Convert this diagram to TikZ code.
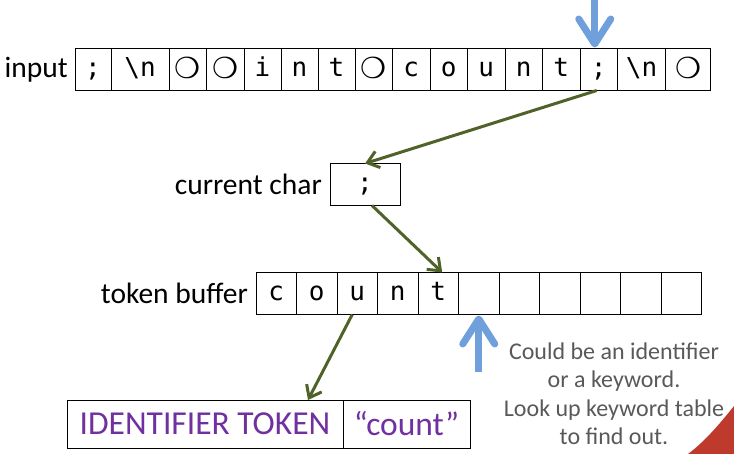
\documentclass[tikz,border=0pt]{standalone}
\usepackage{fontspec}
\setmainfont{Carlito}
\newfontfamily\cellfont{DejaVu Sans Mono}
\newfontfamily\symfont{DejaVu Sans}
\usetikzlibrary{arrows.meta,positioning}

\definecolor{flowgreen}{HTML}{4F6228}
\definecolor{pointerblue}{HTML}{6FA0DC}
\definecolor{tokenpurple}{HTML}{7030A0}
\definecolor{notegray}{HTML}{595959}
\definecolor{cornerred}{HTML}{BE3A2D}

\newcommand\blankmark{\raisebox{-2.5pt}{\symfont\fontsize{29}{29}\selectfont ❍}}

\tikzset{
  cell/.style={draw, line width=0.8pt, outer sep=0pt, inner sep=0pt, minimum height=42pt,
    text height=19pt, text depth=5pt, anchor=west, font=\cellfont\fontsize{26}{26}\selectfont},
  lbl/.style={inner sep=0pt, font=\fontsize{29.5}{29.5}\selectfont},
  tokbox/.style={draw, line width=0.8pt, outer sep=0pt, inner sep=0pt, minimum height=48pt,
    anchor=west, text=tokenpurple, font=\fontsize{33.5}{33.5}\selectfont},
  flow/.style={draw=flowgreen, line width=3pt, -{Straight Barb[length=11pt,width=17pt]}},
  pointer/.style={draw=pointerblue, line width=7pt, -{Straight Barb[round,length=25pt,width=32pt]}},
  note/.style={align=center, text=notegray, inner sep=0pt, font=\fontsize{24}{28.5}\selectfont}
}

\begin{document}
\begin{tikzpicture}[x=1pt,y=-1pt]
\useasboundingbox (0,0) rectangle (734,454);

% input characters
\node[cell, minimum width=36pt] (in1) at (75,69.5) {;};
\foreach \ch/\w [count=\i from 2] in {{\textbackslash n}/58, \blankmark/37, \blankmark/38,
    i/37, n/37, t/37, \blankmark/37.5, c/37.5, o/37.5, u/37.5, n/37.5, t/37.5, ;/37.5,
    {\textbackslash n}/48, \blankmark/45}{
  \pgfmathtruncatemacro\j{\i-1}
  \node[cell, minimum width=\w pt, right=0pt of in\j] (in\i) {\ch};
}
\node[lbl, left=7pt of in1] (inlabel) {input};

% current char
\node[cell, minimum width=70pt] (cur) at (330,184.5) {;};
\node[lbl, left=8pt of cur] (curlabel) {current char};

% token buffer
\foreach \ch [count=\i] in {c,o,u,n,t,{},{},{},{},{},{}}
  \node[cell, minimum width=40.5pt] (tb\i) at ({256+40.5*(\i-1)},293.5) {\ch};
\node[lbl, left=8pt of tb1] (tblabel) {token buffer};

% resulting token
\node[tokbox, minimum width=276pt] (idbox) at (67,424) {IDENTIFIER TOKEN};
\node[tokbox, minimum width=127pt, right=0pt of idbox] (valbox) {“count”};

% arrows
\draw[flow] ([xshift=-2pt]in14.south) -- (cur.north);
\draw[flow] ([xshift=7pt]cur.south) -- ([xshift=4pt]tb5.north);
\draw[flow] ([xshift=-5pt]tb3.south) -- ([xshift=103pt]idbox.north);

\coordinate (toptail) at ([xshift=-4pt]in14.north |- 0,0);
\draw[pointer, shorten >=1pt] (toptail) -- ([xshift=-4pt]in14.north);
\coordinate (bottail) at ([yshift=-58pt]tb6.south);
\draw[pointer, shorten >=1pt] (bottail) -- (tb6.south);

\node[note] (remark) at (614,394) {Could be an identifier\\or a keyword.\\Look up keyword table\\to find out.};

\fill[cornerred] (734,406) .. controls (718,426) and (704,442) .. (688,454) -- (734,454) -- cycle;
\end{tikzpicture}
\end{document}
